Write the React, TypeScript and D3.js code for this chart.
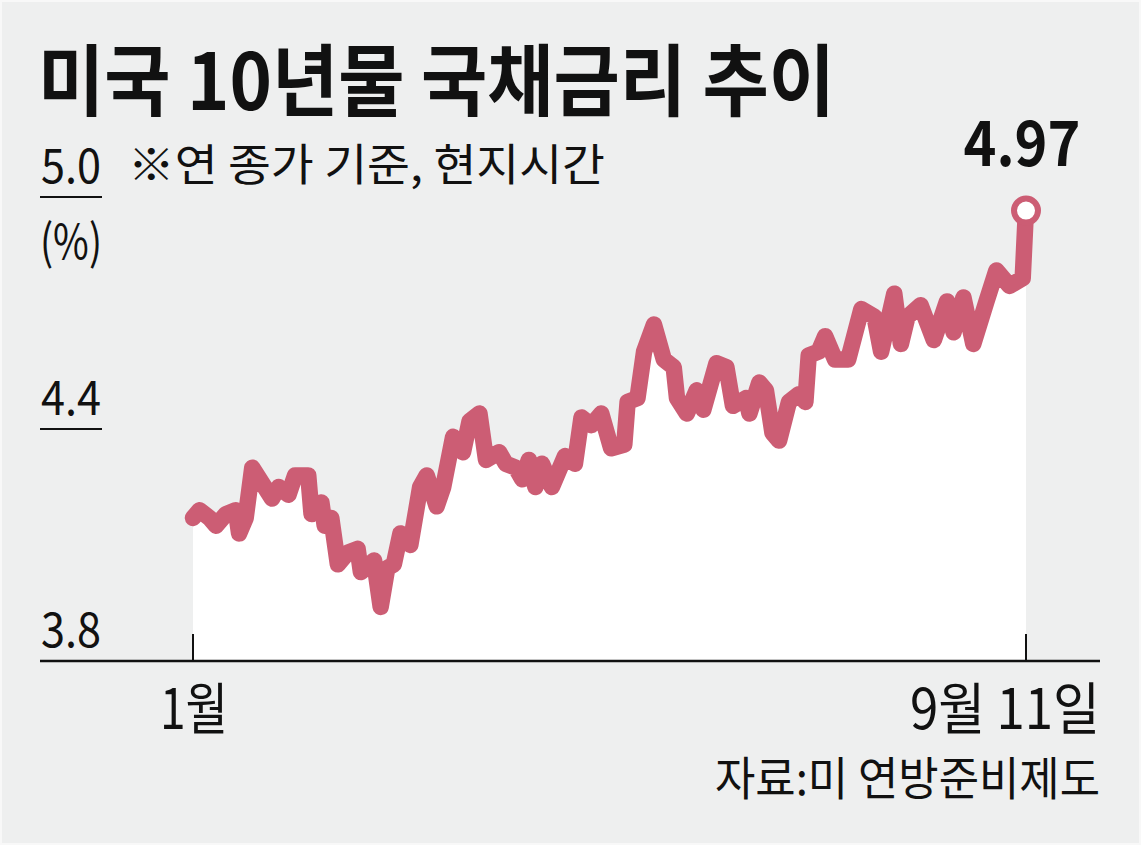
import React, { useRef, useEffect, FC } from "react";
import * as d3 from "d3";

// days since 1월 start (x position) and 10y yield (%)
const days = [
  0, 2, 5, 7, 10, 13, 14, 16, 18, 21, 24, 26, 29, 31, 35, 36, 39, 40, 42, 44,
  47, 50, 51, 55, 57, 59, 61, 63, 66, 69, 71, 74, 76, 79, 82, 84, 87, 89, 93,
  95, 98, 100, 102, 104, 106, 109, 113, 116, 118, 121, 124, 127, 131, 132, 135,
  137, 140, 143, 146, 147, 150, 153, 155, 159, 162, 164, 168, 169, 172, 174,
  176, 178, 181, 184, 186, 187, 190, 192, 195, 199, 203, 207, 209, 213, 215,
  217, 221, 225, 229, 231, 234, 237, 241, 244, 248, 252, 253,
];
const yields = [
  4.17, 4.19, 4.17, 4.15, 4.18, 4.19, 4.13, 4.17, 4.3, 4.26, 4.22, 4.25, 4.23,
  4.28, 4.28, 4.18, 4.21, 4.15, 4.17, 4.05, 4.08, 4.09, 4.03, 4.06, 3.94, 4.04,
  4.05, 4.13, 4.1, 4.25, 4.28, 4.2, 4.25, 4.38, 4.34, 4.42, 4.44, 4.32, 4.34,
  4.31, 4.3, 4.27, 4.32, 4.25, 4.31, 4.25, 4.33, 4.31, 4.43, 4.41, 4.44, 4.35,
  4.36, 4.47, 4.48, 4.6, 4.67, 4.58, 4.56, 4.48, 4.44, 4.5, 4.45, 4.57, 4.56,
  4.46, 4.48, 4.44, 4.52, 4.5, 4.39, 4.37, 4.47, 4.49, 4.47, 4.59, 4.6, 4.64,
  4.58, 4.58, 4.71, 4.69, 4.6, 4.75, 4.62, 4.69, 4.72, 4.63, 4.73, 4.65, 4.74,
  4.62, 4.73, 4.81, 4.77, 4.79, 4.97,
];
const yTicks = [5.0, 4.4, 3.8];
const xLabels = ["1월", "9월 11일"];

const title = "미국 10년물 국채금리 추이";
const subtitle = "※연 종가 기준, 현지시간";
const unit = "(%)";
const source = "자료:미 연방준비제도";

const App: FC = () => {
  const chartRef = useRef(null);

  useEffect(() => {
    const container = d3.select(chartRef.current);
    container.selectAll("svg").remove();

    const width = 1141;
    const height = 845;
    const font = "'Noto Sans CJK KR', 'Noto Sans', sans-serif";
    const lineColor = "#cc5d74";

    const svg = container
      .append("svg")
      .attr("width", width)
      .attr("height", height)
      .style("display", "block");

    svg
      .append("rect")
      .attr("x", 1)
      .attr("y", 1)
      .attr("width", width - 2)
      .attr("height", height - 2)
      .attr("fill", "#eeefef")
      .attr("stroke", "#f8f8f8")
      .attr("stroke-width", 2);

    const x = d3.scaleLinear().domain([0, 253]).range([193, 1026]);
    const y = d3.scaleLinear().domain([3.8, 5.0]).range([661, 197]);

    const data = days.map((d, i) => ({ d, v: yields[i] }));

    // white area under the line
    const area = d3
      .area<any>()
      .x((p) => x(p.d))
      .y0(y(3.8))
      .y1((p) => y(p.v));
    svg.append("path").attr("d", area(data)).attr("fill", "#ffffff");

    // baseline + ticks
    svg
      .append("line")
      .attr("x1", 40)
      .attr("x2", 1100)
      .attr("y1", y(3.8))
      .attr("y2", y(3.8))
      .attr("stroke", "#111")
      .attr("stroke-width", 2.5);

    [0, 253].forEach((d) => {
      svg
        .append("line")
        .attr("x1", x(d))
        .attr("x2", x(d))
        .attr("y1", y(3.8) - 27)
        .attr("y2", y(3.8))
        .attr("stroke", "#111")
        .attr("stroke-width", 2);
    });

    // y tick labels with underline
    yTicks.forEach((t) => {
      svg
        .append("text")
        .attr("x", 41)
        .attr("y", y(t) - 14)
        .attr("font-family", font)
        .attr("font-size", 47)
        .attr("textLength", 60)
        .attr("lengthAdjust", "spacingAndGlyphs")
        .attr("fill", "#111")
        .text(t.toFixed(1));
      if (t !== 3.8) {
        svg
          .append("line")
          .attr("x1", 40)
          .attr("x2", 102)
          .attr("y1", y(t))
          .attr("y2", y(t))
          .attr("stroke", "#111")
          .attr("stroke-width", 2);
      }
    });

    svg
      .append("text")
      .attr("x", 40)
      .attr("y", 259)
      .attr("font-family", font)
      .attr("font-size", 48)
      .attr("textLength", 62)
      .attr("lengthAdjust", "spacingAndGlyphs")
      .attr("fill", "#111")
      .text(unit);

    // the line
    const line = d3
      .line<any>()
      .x((p) => x(p.d))
      .y((p) => y(p.v));
    svg
      .append("path")
      .attr("d", line(data))
      .attr("fill", "none")
      .attr("stroke", lineColor)
      .attr("stroke-width", 16.5)
      .attr("stroke-linejoin", "round")
      .attr("stroke-linecap", "round");

    const last = data[data.length - 1];
    svg
      .append("circle")
      .attr("cx", x(last.d))
      .attr("cy", y(last.v) + 2)
      .attr("r", 12)
      .attr("fill", "#fff")
      .attr("stroke", lineColor)
      .attr("stroke-width", 6);

    svg
      .append("text")
      .attr("x", x(last.d) - 4)
      .attr("y", 166)
      .attr("text-anchor", "middle")
      .attr("font-family", font)
      .attr("font-weight", 700)
      .attr("font-size", 62)
      .attr("textLength", 117)
      .attr("lengthAdjust", "spacingAndGlyphs")
      .attr("fill", "#111")
      .text(last.v.toFixed(2));

    // x labels
    svg
      .append("text")
      .attr("x", x(0) + 1)
      .attr("y", 729)
      .attr("text-anchor", "middle")
      .attr("font-family", font)
      .attr("font-size", 56)
      .attr("textLength", 68)
      .attr("lengthAdjust", "spacingAndGlyphs")
      .attr("fill", "#111")
      .text(xLabels[0]);
    svg
      .append("text")
      .attr("x", 1100)
      .attr("y", 729)
      .attr("text-anchor", "end")
      .attr("font-family", font)
      .attr("font-size", 56)
      .attr("textLength", 190)
      .attr("lengthAdjust", "spacingAndGlyphs")
      .attr("fill", "#111")
      .text(xLabels[1]);

    // titles
    svg
      .append("text")
      .attr("x", 38)
      .attr("y", 110)
      .attr("font-family", font)
      .attr("font-weight", 700)
      .attr("font-size", 78)
      .attr("textLength", 797)
      .attr("lengthAdjust", "spacingAndGlyphs")
      .attr("fill", "#111")
      .text(title);

    svg
      .append("text")
      .attr("x", 128)
      .attr("y", 181)
      .attr("font-family", font)
      .attr("font-size", 44)
      .attr("textLength", 477)
      .attr("lengthAdjust", "spacingAndGlyphs")
      .attr("fill", "#111")
      .text(subtitle);

    svg
      .append("text")
      .attr("x", 1100)
      .attr("y", 795)
      .attr("text-anchor", "end")
      .attr("font-family", font)
      .attr("font-size", 46)
      .attr("textLength", 385)
      .attr("lengthAdjust", "spacingAndGlyphs")
      .attr("fill", "#111")
      .text(source);
  }, []);

  return (
    <div
      ref={chartRef}
      style={{ position: "absolute", left: 0, top: 0 }}
    />
  );
};

export default App;
